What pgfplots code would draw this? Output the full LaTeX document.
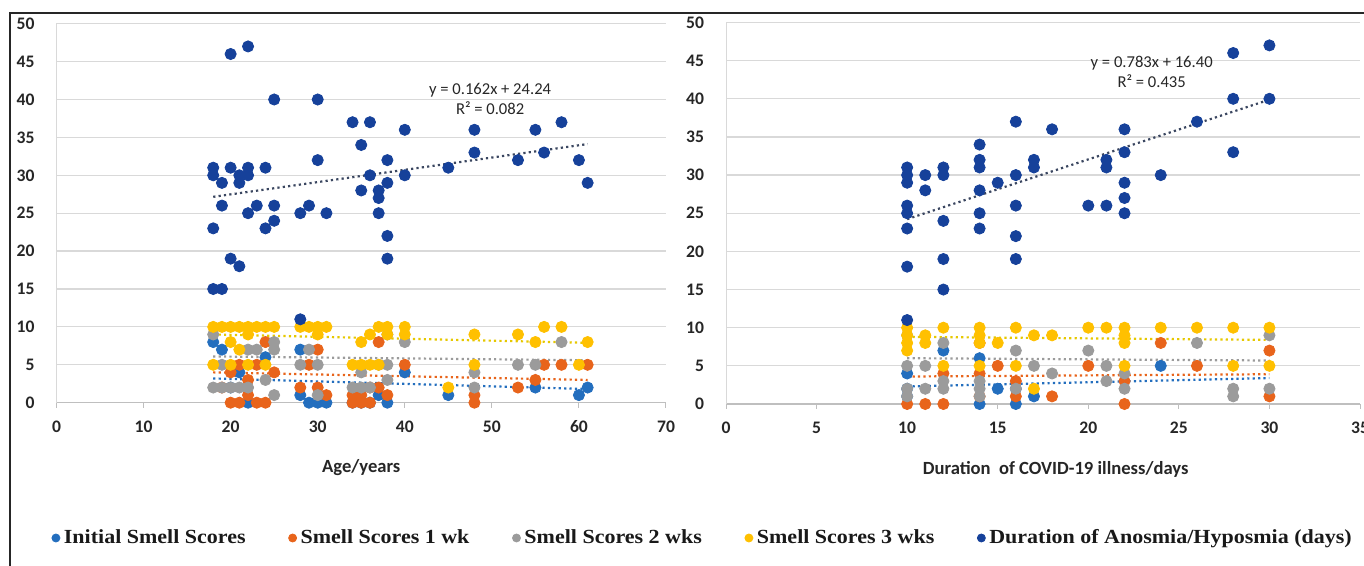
\documentclass[border=0pt]{standalone}
\usepackage{pgfplots}
\pgfplotsset{compat=1.18}
\usepackage{fontspec}
\setmainfont{Carlito}
\newfontfamily\tickfont{Carlito}
\newfontfamily\legfont[FakeStretch=1.1]{Liberation Serif}
\definecolor{initblue}{HTML}{236EBE}
\definecolor{wkone}{HTML}{E8641B}
\definecolor{wktwo}{HTML}{9B9B9B}
\definecolor{wkthree}{HTML}{FFC000}
\definecolor{durblue}{HTML}{16419A}
\definecolor{trdark}{HTML}{3A4660}
\definecolor{tryellow}{HTML}{E6C800}
\definecolor{gridc}{HTML}{D9D9D9}
\definecolor{axisc}{HTML}{BFBFBF}
\pgfplotsset{
  myax/.style={scale only axis, xmin=0, ymin=0, ymax=50, ytick={0,5,...,50},
    ymajorgrids, grid style={draw=gridc, line width=0.6pt},
    axis x line=bottom, axis y line=left,
    x axis line style={-, draw=axisc, line width=0.6pt},
    y axis line style={-, draw=gridc, line width=0.5pt},
    tick align=outside, xtick style={draw=axisc, line width=0.5pt}, ytick style={draw=none},
    major tick length=2.5pt,
    tick label style={font=\tickfont\bfseries\fontsize{8.8}{10}\selectfont, text=black!85},
    xticklabel style={yshift=-3pt},
    yticklabel style={xshift=-5pt},
    /pgf/number format/assume math mode=true,
    xlabel style={font=\tickfont\bfseries\fontsize{9.3}{11}\selectfont, text=black!85},
    clip=false},
  sc/.style={only marks, mark=*, mark size=2.8pt, color=#1, mark options={fill=#1, draw=#1}},
  tr/.style={no markers, color=#1, line width=1.1pt, dash pattern=on 1.1pt off 1.6pt, forget plot},
}
\begin{document}
\begin{tikzpicture}
\useasboundingbox (0,0) rectangle (682pt,283pt);
\draw[line width=0.9pt, black!85] (5pt,-5pt) -- (5pt,276.5pt) -- (690pt,276.5pt);
% ---------------- LEFT: age ----------------
\begin{axis}[myax, at={(28.25pt,81.65pt)}, anchor=south west,
  width=304.75pt, height=189.5pt, xmax=70, xtick={0,10,...,70},
  xlabel={Age/years}, xlabel style={at={(axis description cs:0.5,-0.172)}, anchor=center},
  legend columns=5,
  legend style={at={(axis description cs:-0.018,-0.357)}, anchor=west, draw=none, fill=none,
    font=\legfont\bfseries\fontsize{10}{12}\selectfont, text=black!90,
    /tikz/every even column/.append style={column sep=19.5pt}},
  legend image code/.code={\draw[#1, mark size=2pt] plot coordinates {(0.08cm,0cm)};},
  ]
\addplot[sc=initblue] coordinates {(18,8)(19,7)(21,4)(24,6)(22,0)(28,7)(28,1)(29,0)(31,0)(34,0)(35,0)(36,0)(38,0)(40,4)(45,1)(55,2)(60,1)(61,2)(30,0)(20,2)(37,1)};
\addlegendentry{Initial Smell Scores}
\addplot[sc=wkone] coordinates {(19,2)(20,0)(21,0)(23,0)(24,0)(22,3)(22,1)(24,8)(21,5)(23,5)(20,4)(25,4)(28,2)(29,5)(30,7)(30,2)(31,1)(34,0)(35,0)(36,0)(34,1)(35,1)(36,2)(37,2)(37,8)(38,1)(40,5)(48,0)(48,1)(53,2)(55,3)(56,5)(58,5)(61,5)};
\addlegendentry{Smell Scores 1 wk}
\addplot[sc=wktwo] coordinates {(18,9)(18,2)(19,2)(20,2)(21,2)(22,2)(19,5)(22,7)(23,7)(25,8)(25,7)(24,3)(25,1)(28,5)(29,7)(30,5)(34,2)(35,2)(36,2)(35,4)(37,5)(38,3)(38,5)(38,9)(40,8)(48,4)(48,2)(53,5)(55,5)(58,8)(30,1)};
\addlegendentry{Smell Scores 2 wks}
\addplot[sc=wkthree] coordinates {(18,10)(19,10)(20,10)(21,10)(22,10)(23,10)(24,10)(25,10)(28,10)(29,10)(30,10)(31,10)(30,9)(22,9)(20,8)(21,7)(18,5)(20,5)(22,5)(24,5)(34,5)(35,5)(36,5)(37,5)(35,8)(36,9)(37,10)(38,10)(38,9)(40,10)(40,9)(45,2)(48,9)(48,5)(53,9)(55,8)(56,10)(58,10)(60,5)(61,8)};
\addlegendentry{Smell Scores 3 wks}
\addplot[sc=durblue] coordinates {(20,46)(22,47)(25,40)(30,40)(34,37)(36,37)(40,36)(48,36)(55,36)(58,37)(35,34)(48,33)(56,33)(53,32)(60,32)(61,29)(45,31)(40,30)(38,32)(38,29)(36,30)(35,28)(37,28)(37,27)(37,25)(38,22)(38,19)(30,32)(18,31)(18,30)(20,31)(22,31)(21,30)(22,30)(24,31)(19,29)(21,29)(19,26)(23,26)(25,26)(22,25)(25,24)(24,23)(18,23)(28,25)(29,26)(31,25)(20,19)(21,18)(18,15)(19,15)(28,11)};
\addlegendentry{Duration of Anosmia/Hyposmia (days)}
\addplot[tr=initblue] coordinates {(18,3.2)(61,1.8)};
\addplot[tr=wkone] coordinates {(18,4.0)(61,3.0)};
\addplot[tr=wktwo] coordinates {(18,6.1)(61,5.6)};
\addplot[tr=tryellow] coordinates {(18,9.0)(61,7.9)};
\addplot[tr=trdark] coordinates {(18,27.16)(61,34.12)};
\node[font=\tickfont\fontsize{8.3}{9.8}\selectfont, text=black!85, align=center] at (axis cs:49.8,40.1) {y = 0.162x + 24.24\\R² = 0.082};
\end{axis}
% ---------------- RIGHT: duration ----------------
\begin{axis}[myax, at={(363pt,81pt)}, anchor=south west,
  width=317pt, height=190.75pt, xmax=35, xtick={0,5,...,35},
  xlabel={Duration \ of COVID-19 illness/days}, xlabel style={at={(axis description cs:0.52,-0.172)}, anchor=center},
  ]
\addplot[sc=initblue] coordinates {(10,4)(10,1)(10,2)(12,7)(14,6)(14,0)(15,2)(16,0)(16,2)(17,1)(24,5)};
\addplot[sc=wkone] coordinates {(10,0)(11,0)(12,0)(12,4)(14,8)(14,4)(14,1)(15,5)(16,3)(16,1)(18,1)(20,5)(22,3)(22,0)(24,8)(26,5)(30,7)(30,1)};
\addplot[sc=wktwo] coordinates {(10,9)(10,5)(10,2)(10,1)(11,5)(11,2)(12,8)(12,3)(12,2)(14,3)(14,2)(14,1)(16,7)(16,2)(17,5)(18,4)(20,7)(21,5)(21,3)(22,4)(22,2)(26,8)(28,2)(28,1)(30,9)(30,2)};
\addplot[sc=wkthree] coordinates {(10,10)(10,9)(10,8)(10,7)(11,9)(11,8)(12,10)(12,5)(14,10)(14,9)(14,8)(14,5)(15,8)(16,10)(16,5)(17,9)(18,9)(17,2)(20,10)(21,10)(22,10)(22,9)(22,8)(22,5)(24,10)(26,10)(28,10)(28,5)(30,10)(30,5)};
\addplot[sc=durblue] coordinates {(30,47)(28,46)(28,40)(30,40)(28,33)(26,37)(16,37)(18,36)(22,36)(22,33)(22,29)(22,27)(22,25)(21,32)(21,31)(20,26)(21,26)(24,30)(14,34)(14,32)(14,31)(14,28)(14,25)(14,23)(15,29)(16,30)(16,26)(16,22)(16,19)(17,32)(17,31)(10,31)(10,30)(10,29)(10,26)(10,25)(10,23)(10,18)(11,30)(11,28)(12,31)(12,30)(12,24)(12,19)(12,15)(10,11)};
\addplot[tr=initblue] coordinates {(10,2.3)(30,3.4)};
\addplot[tr=wkone] coordinates {(10,3.6)(30,3.9)};
\addplot[tr=wktwo] coordinates {(10,6.0)(30,5.7)};
\addplot[tr=tryellow] coordinates {(10,8.8)(30,8.4)};
\addplot[tr=trdark] coordinates {(10,24.23)(30,39.89)};
\node[font=\tickfont\fontsize{8.3}{9.8}\selectfont, text=black!85, align=center] at (axis cs:23.5,43.5) {y = 0.783x + 16.40\\R² = 0.435};
\end{axis}
\end{tikzpicture}
\end{document}
